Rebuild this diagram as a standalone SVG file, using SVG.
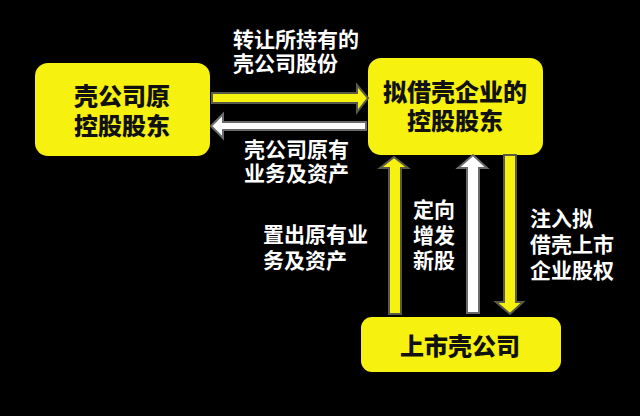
<svg xmlns="http://www.w3.org/2000/svg" width="640" height="416" viewBox="0 0 640 416">
  <style>
    .box { fill: #f6f10f; }
    .ntext { font-family: "Noto Sans CJK SC", "Noto Sans", sans-serif; font-weight: 900; font-size: 24px; fill: #111; text-anchor: middle; }
    .lbl { font-family: "Noto Sans CJK SC", "Noto Sans", sans-serif; font-weight: 700; font-size: 21px; fill: #ffffff; }
    .ay { fill: #f6f10f; stroke: #5a5a4a; stroke-width: 2; stroke-linejoin: miter; }
    .aw { fill: #ffffff; stroke: #6a6a6a; stroke-width: 2; stroke-linejoin: miter; }
  </style>
  <rect x="0" y="0" width="640" height="416" fill="#000000"/>

  <g id="node-shell-original-holder">
    <rect class="box" x="35" y="63" width="175" height="93" rx="13"/>
    <text class="ntext" x="122" y="105">壳公司原</text>
    <text class="ntext" x="122" y="135">控股股东</text>
  </g>

  <g id="node-backdoor-holder">
    <rect class="box" x="368" y="58" width="175" height="97" rx="13"/>
    <text class="ntext" x="455" y="101">拟借壳企业的</text>
    <text class="ntext" x="455" y="130">控股股东</text>
  </g>

  <g id="node-listed-shell">
    <rect class="box" x="361" y="317" width="200" height="55" rx="11"/>
    <text class="ntext" x="460" y="355">上市壳公司</text>
  </g>

  <g id="connectors">
    <polygon class="ay" points="212,93 357,93 357,85 368,98 357,112 357,103 212,103"/>
    <polygon class="aw" points="366,122 223,122 223,114 211,126 223,138 223,130 366,130"/>
    <polygon class="ay" points="389,314 389,168 380,168 394,157 408,168 401,168 401,314"/>
    <polygon class="aw" points="467,313 467,168 458,168 473,155 487,168 479,168 479,313"/>
    <polygon class="ay" points="504,155 504,302 496,302 510,314 523,302 516,302 516,155"/>
  </g>

  <g id="labels">
    <text class="lbl" x="233" y="47">转让所持有的</text>
    <text class="lbl" x="233" y="71">壳公司股份</text>
    <text class="lbl" x="244" y="157">壳公司原有</text>
    <text class="lbl" x="244" y="181">业务及资产</text>
    <text class="lbl" x="263" y="242">置出原有业</text>
    <text class="lbl" x="263" y="268">务及资产</text>
    <text class="lbl" x="413" y="217">定向</text>
    <text class="lbl" x="413" y="243">增发</text>
    <text class="lbl" x="413" y="268">新股</text>
    <text class="lbl" x="530" y="226">注入拟</text>
    <text class="lbl" x="530" y="252">借壳上市</text>
    <text class="lbl" x="530" y="278">企业股权</text>
  </g>
</svg>
